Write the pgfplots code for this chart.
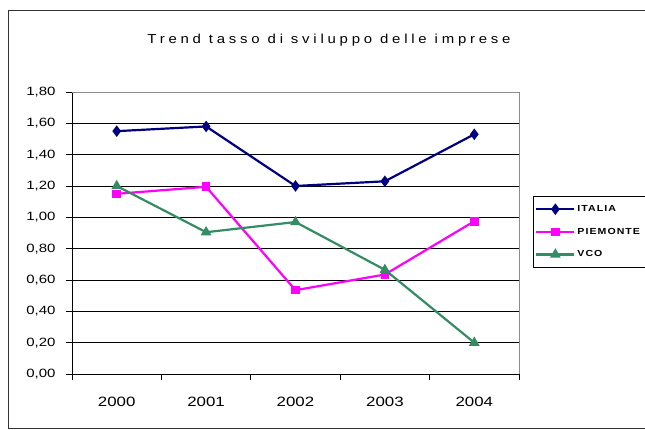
\documentclass[border=0pt]{standalone}
\usepackage{fontspec}
\setmainfont{Liberation Sans}[FakeStretch=1.25]
\newfontfamily\titlefont{Liberation Sans}[FakeStretch=1.15,LetterSpace=29]
\newfontfamily\legfont{Liberation Sans}[FakeStretch=1.2,LetterSpace=12]
\usepackage{pgfplots}
\pgfplotsset{compat=1.18}
\definecolor{italia}{RGB}{0,0,128}
\definecolor{piemonte}{RGB}{255,0,255}
\definecolor{vco}{RGB}{51,140,100}
\begin{document}
\begin{tikzpicture}[x=1pt,y=1pt]
\useasboundingbox (0,0) rectangle (645,430);
\draw[line width=0.8pt, black!80] (8,2) -- (8,420) -- (700,420);
\draw[line width=0.8pt, black!80] (8,2) -- (700,2);
\node[font=\titlefont\fontsize{13}{15}\selectfont] at (329,390) {Trend tasso di sviluppo delle imprese};
\begin{axis}[
  at={(72pt,56pt)}, anchor=south west,
  scale only axis, width=447pt, height=282pt,
  xmin=-0.5, xmax=4.5, ymin=0, ymax=1.8,
  xtick={0,1,2,3,4},
  xticklabels={2000,2001,2002,2003,2004},
  minor xtick={-0.5,0.5,1.5,2.5,3.5,4.5},
  major x tick style={draw=none},
  minor tick length=6pt,
  ytick={0,0.2,...,1.81},
  major tick length=6pt,
  tick align=outside,
  axis x line*=bottom, axis y line*=left,
  axis line style={black, line width=0.8pt, -},
  tick style={black, line width=0.8pt},
  ymajorgrids, grid style={black, line width=0.9pt},
  /pgf/number format/fixed, /pgf/number format/fixed zerofill,
  /pgf/number format/precision=2, /pgf/number format/use comma,
  /pgf/number format/assume math mode=true,
  yticklabel style={font=\fontsize{12}{14}\selectfont, xshift=-7pt},
  xticklabel style={font=\fontsize{13.5}{15}\selectfont, yshift=-14pt},
  legend style={at={(1.031,0.504)}, anchor=west, draw=black, line width=0.8pt,
    font=\legfont\bfseries\fontsize{8.8}{10}\selectfont, inner xsep=2pt, inner ysep=7pt,
    row sep=11pt, cells={anchor=west}},
  legend image code/.code={\draw[mark repeat=2,mark phase=2,#1] plot coordinates {(0pt,0pt) (19pt,0pt) (38pt,0pt)};},
  clip=false,
]
\addplot[italia, line width=2.2pt, mark=diamond*, mark size=4pt, mark options={solid}] coordinates {(0,1.55) (1,1.58) (2,1.20) (3,1.23) (4,1.53)};
\addlegendentry{ITALIA}
\addplot[piemonte, line width=2.2pt, mark=square*, mark size=3.2pt] coordinates {(0,1.15) (1,1.195) (2,0.535) (3,0.635) (4,0.975)};
\addlegendentry{PIEMONTE\hspace*{12pt}}
\addplot[vco, line width=2.2pt, mark=triangle*, mark size=4pt] coordinates {(0,1.20) (1,0.905) (2,0.97) (3,0.665) (4,0.20)};
\addlegendentry{VCO}
\draw[black!45, line width=0.8pt] (rel axis cs:0,1) -- (rel axis cs:1,1) -- (rel axis cs:1,0);
\end{axis}
\end{tikzpicture}
\end{document}
